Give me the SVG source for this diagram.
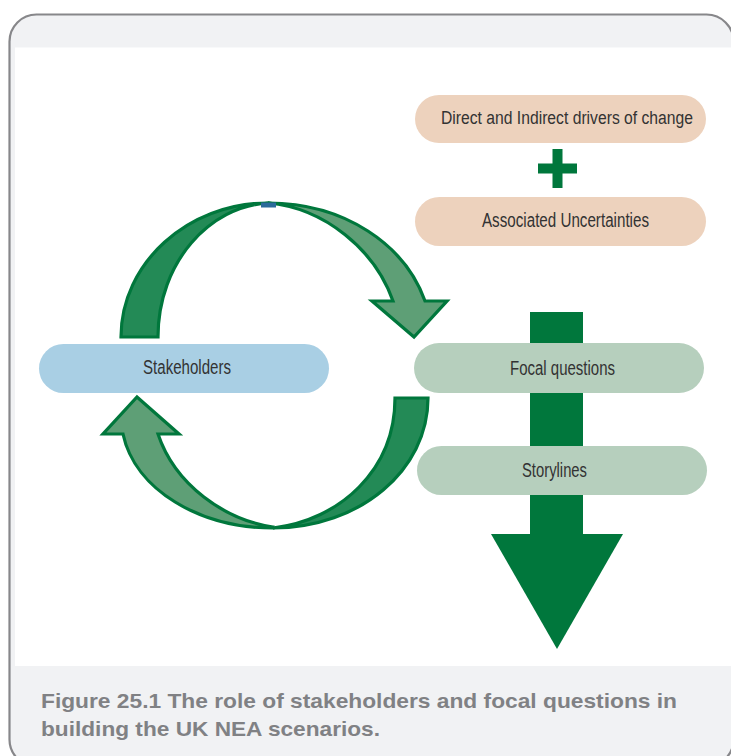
<svg xmlns="http://www.w3.org/2000/svg" width="731" height="756" viewBox="0 0 731 756">
  <style>
    .lbl { font-family: "Liberation Sans", Arial, sans-serif; font-size: 20px; fill: #333333; }
    .cap { font-family: "Liberation Sans", Arial, sans-serif; font-size: 21px; font-weight: bold; fill: #808184; }
    .peach { fill: #edd2bd; }
    .blue { fill: #a9cfe4; }
    .sage { fill: #b6cfbd; }
    .dark { fill: #238a56; stroke: #00773c; stroke-width: 3.2; stroke-linejoin: miter; }
    .light { fill: #5e9f76; stroke: #00773c; stroke-width: 3.2; stroke-linejoin: miter; }
    .big { fill: #00773c; }
  </style>
  <rect width="731" height="756" fill="#ffffff"/>
  <g id="frame">
    <rect x="9.5" y="14.5" width="724" height="752" rx="27" ry="27" fill="#f1f2f4" stroke="#87878a" stroke-width="2.2"/>
    <rect x="15" y="47.5" width="716" height="618.5" fill="#ffffff"/>
  </g>
  <g id="connectors">
    <g id="down-arrow">
      <rect class="big" x="530" y="312" width="53" height="223"/>
      <polygon class="big" points="491,534 623,534 557,649"/>
    </g>
    <g id="top-arc">
      <path class="dark" d="M121,337 C121,263 188,203 268,203 C210,206 158,262 158,337 Z"/>
      <path class="light" d="M268,203 C345,203 405,245 425,301 L447,301 L414,337 L372,301 L393,301 C375,250 325,208 268,203 Z"/>
      <rect x="261" y="202.5" width="15" height="5" fill="#2b6a9a"/>
    </g>
    <g id="bottom-arc">
      <path class="dark" d="M395,398 L428,398 C428,470 360,528 273,528 C340,520 395,470 395,398 Z"/>
      <path class="light" d="M273,528 C200,528 135,490 123,434 L103,434 L137,397 L179,434 L158,434 C175,485 225,520 273,527 Z"/>
    </g>
    <g id="plus">
      <rect class="big" x="552.5" y="149" width="10" height="39"/>
      <rect class="big" x="538" y="163.5" width="39" height="10"/>
    </g>
  </g>
  <g id="node-drivers">
    <rect class="peach" x="415" y="95" width="291" height="48" rx="24"/>
    <text class="lbl" x="441" y="124" style="font-size:18px" textLength="252" lengthAdjust="spacingAndGlyphs">Direct and Indirect drivers of change</text>
  </g>
  <g id="node-uncertainties">
    <rect class="peach" x="415" y="197" width="291" height="49" rx="24.5"/>
    <text class="lbl" x="482" y="227" textLength="167" lengthAdjust="spacingAndGlyphs">Associated Uncertainties</text>
  </g>
  <g id="node-stakeholders">
    <rect class="blue" x="39" y="344" width="290" height="49" rx="24.5"/>
    <text class="lbl" x="143" y="374" textLength="88" lengthAdjust="spacingAndGlyphs">Stakeholders</text>
  </g>
  <g id="node-focal">
    <rect class="sage" x="414" y="343" width="290" height="50" rx="25"/>
    <text class="lbl" x="510" y="375" textLength="105" lengthAdjust="spacingAndGlyphs">Focal questions</text>
  </g>
  <g id="node-storylines">
    <rect class="sage" x="417" y="446" width="290" height="49" rx="24.5"/>
    <text class="lbl" x="522" y="477" textLength="65" lengthAdjust="spacingAndGlyphs">Storylines</text>
  </g>
  <g id="caption">
    <text class="cap" x="41" y="708" textLength="636" lengthAdjust="spacingAndGlyphs">Figure 25.1 The role of stakeholders and focal questions in</text>
    <text class="cap" x="41" y="736" textLength="339" lengthAdjust="spacingAndGlyphs">building the UK NEA scenarios.</text>
  </g>
</svg>
